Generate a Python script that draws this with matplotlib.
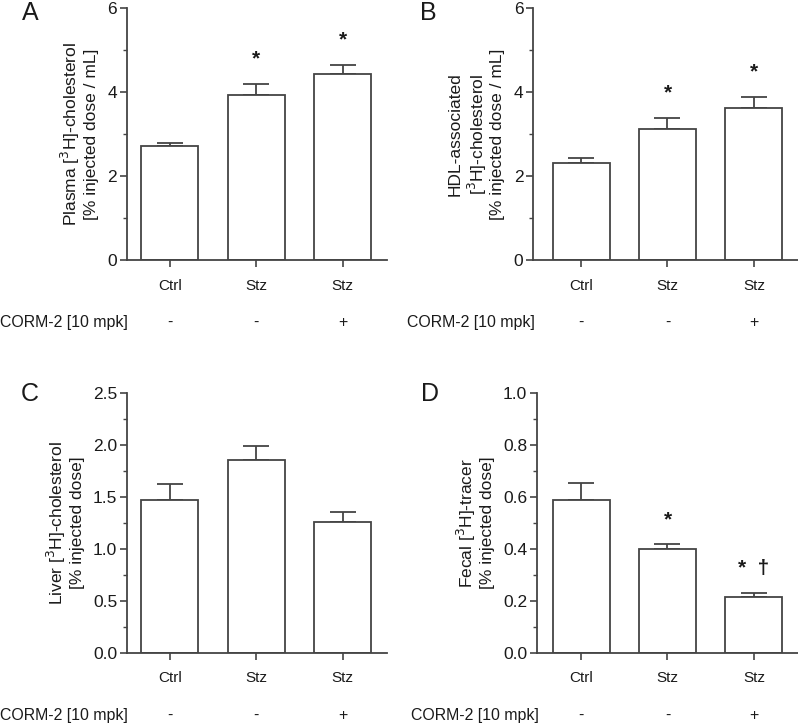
import matplotlib
matplotlib.use("Agg")
import matplotlib.pyplot as plt
from matplotlib.ticker import MultipleLocator

plt.rcParams['font.family'] = ['Liberation Sans', 'DejaVu Sans']

groups = ['Ctrl', 'Stz', 'Stz']
corm = ['-', '-', '+']

plasma_mean = [2.71, 3.94, 4.43]
plasma_sem = [0.08, 0.26, 0.21]
plasma_sig = ['', '*', '*']

hdl_mean = [2.32, 3.13, 3.63]
hdl_sem = [0.10, 0.26, 0.26]
hdl_sig = ['', '*', '*']

liver_mean = [1.47, 1.855, 1.26]
liver_sem = [0.16, 0.135, 0.097]
liver_sig = ['', '', '']

fecal_mean = [0.59, 0.399, 0.214]
fecal_sem = [0.064, 0.019, 0.015]
fecal_sig = ['', '*', '*  †']

EDGE = '#444444'
TXT = '#1a1a1a'
W, H = 798, 723

fig = plt.figure(figsize=(W / 100, H / 100), dpi=100)


def panel(rect, means, sems, sig, ylim, major, minor, xlim, ylabel, fmt):
    ax = fig.add_axes(rect)
    x = range(len(means))
    ax.bar(x, means, width=0.66, color='white', edgecolor=EDGE, linewidth=1.3, zorder=2)
    ax.errorbar(x, means, yerr=[[0] * len(sems), sems], fmt='none', ecolor=EDGE,
                elinewidth=1.3, capsize=9.4, capthick=1.3, zorder=1)
    for i, s in enumerate(sig):
        if s:
            ax.annotate(s, (i, means[i] + sems[i]), xytext=(0, 11), textcoords='offset points',
                        ha='center', va='bottom', fontsize=15, fontweight='bold', color=TXT)
    ax.set_xlim(*xlim)
    ax.set_ylim(*ylim)
    ax.yaxis.set_major_locator(MultipleLocator(major))
    ax.yaxis.set_minor_locator(MultipleLocator(minor))
    ax.yaxis.set_major_formatter(fmt)
    for sp in ['top', 'right']:
        ax.spines[sp].set_visible(False)
    for sp in ['left', 'bottom']:
        ax.spines[sp].set_color(EDGE)
        ax.spines[sp].set_linewidth(1.3)
    ax.set_xticks(list(x))
    ax.set_xticklabels(groups, fontsize=11, color=TXT)
    ax.tick_params(axis='x', length=5, width=1.2, color=EDGE, pad=8.5)
    ax.tick_params(axis='y', which='major', length=5, width=1.2, color=EDGE,
                   labelsize=12.5, labelcolor=TXT, pad=2)
    ax.tick_params(axis='y', which='minor', length=3, width=1.0, color=EDGE)
    ax.set_ylabel(ylabel, fontsize=12.5, color=TXT, labelpad=6, linespacing=1.15)
    ax.annotate('CORM-2 [10 mpk]', (0, 0), xycoords='axes fraction', xytext=(1, -45),
                textcoords='offset points', ha='right', va='center', fontsize=11.4, color=TXT)
    for i, c in enumerate(corm):
        ax.annotate(c, (i, 0), xycoords=('data', 'axes fraction'), xytext=(0, -45),
                    textcoords='offset points', ha='center', va='center', fontsize=11.4, color=TXT)
    return ax


panel([0.1591, 0.6404, 0.3258, 0.3485], plasma_mean, plasma_sem, plasma_sig,
      (0, 6), 2, 1, (-0.497, 2.51),
      'Plasma [$^3$H]-cholesterol\n[% injected dose / mL]', '{x:.0f}')
panel([0.668, 0.6404, 0.332, 0.3485], hdl_mean, hdl_sem, hdl_sig,
      (0, 6), 2, 1, (-0.555, 2.51),
      'HDL-associated\n[$^3$H]-cholesterol\n[% injected dose / mL]', '{x:.0f}')
panel([0.1591, 0.0972, 0.3258, 0.3587], liver_mean, liver_sem, liver_sig,
      (0, 2.5), 0.5, 0.25, (-0.497, 2.51),
      'Liver [$^3$H]-cholesterol\n[% injected dose]', '{x:.1f}')
panel([0.673, 0.0972, 0.327, 0.3587], fecal_mean, fecal_sem, fecal_sig,
      (0, 1.0), 0.2, 0.1, (-0.509, 2.51),
      'Fecal [$^3$H]-tracer\n[% injected dose]', '{x:.1f}')

for letter, px, py in [('A', 30, 13), ('B', 428, 13), ('C', 30, 394), ('D', 430, 394)]:
    fig.text(px / W, 1 - py / H, letter, ha='center', va='center', fontsize=18, color=TXT)

fig.savefig('out.png', dpi=100)
